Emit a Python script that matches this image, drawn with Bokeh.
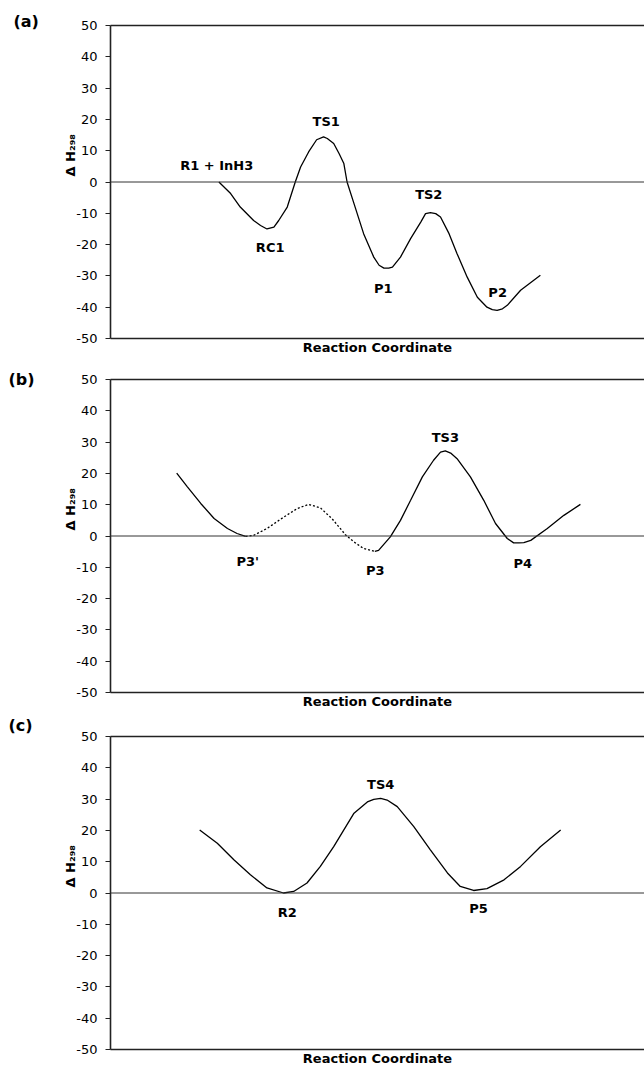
from bokeh.plotting import figure
from bokeh.models import Range1d, Span, LinearAxis, FixedTicker, Title
from bokeh.layouts import column
from bokeh.embed import file_html
from bokeh.resources import INLINE
from bokeh.core.properties import value

FONT = "DejaVu Sans"

# ---------------- data ----------------
y_ticks = [-50, -40, -30, -20, -10, 0, 10, 20, 30, 40, 50]

# panel (a)
a_x = [20.3, 22.5, 24.3, 26.8, 28.1, 29.3, 30.6, 31.5, 33.1, 34.6, 35.6, 37.1, 38.6, 39.9,
       40.6, 41.8, 42.8, 43.7, 44.3, 45.6, 47.4, 49.3, 50.3, 51.2, 52.1, 52.8, 54.3, 56.2,
       58.1, 59.0, 59.9, 60.9, 61.8, 63.4, 64.9, 66.8, 68.7, 70.5, 71.5, 72.4, 73.4, 74.3,
       76.8, 80.5]
a_y = [0, -3.7, -8, -12.3, -13.9, -15, -14.4, -12.3, -8, 0, 4.8, 9.6, 13.5, 14.4,
       13.9, 12.3, 9.1, 5.9, 0, -6.9, -16.5, -24, -26.6, -27.5, -27.5, -27.2, -24, -18.1,
       -12.8, -10.1, -9.8, -10.1, -11.2, -16.5, -22.9, -30.4, -36.8, -40, -40.8, -41, -40.5, -39.4,
       -34.6, -29.8]
a_lbl = ["R1 + InH3", "RC1", "TS1", "P1", "TS2", "P2"]
a_lbl_x = [19.9, 29.9, 40.4, 51.1, 59.6, 72.5]
a_lbl_y = [5.4, -21.0, 19.2, -34.1, -4.0, -35.2]

# panel (b)
b1_x = [12.4, 14.4, 16.9, 19.4, 21.9, 23.7, 25.3]
b1_y = [20.1, 15.7, 10.4, 5.6, 2.4, 0.8, -0.1]
bd_x = [25.3, 26.8, 29.3, 32.5, 35.0, 37.1, 39.3, 41.5, 44.0, 45.6, 47.4, 49.5]
bd_y = [-0.1, 0.2, 2.4, 6.1, 8.8, 10.1, 9.0, 5.5, 0.4, -1.9, -4.0, -4.9]
b2_x = [49.5, 50.2, 52.4, 54.3, 56.2, 58.4, 60.5, 61.8, 62.7, 63.7, 64.9, 67.4, 69.9,
        72.1, 74.3, 75.5, 76.5, 77.4, 78.7, 81.8, 84.9, 88.0]
b2_y = [-4.9, -4.6, -0.3, 5.0, 11.4, 18.9, 24.2, 26.8, 27.2, 26.5, 24.7, 18.9, 11.4,
        4.0, -0.8, -2.2, -2.2, -2.1, -1.4, 2.4, 6.6, 10.1]
b_lbl = ["P3'", "P3", "TS3", "P4"]
b_lbl_x = [25.7, 49.6, 62.7, 77.2]
b_lbl_y = [-8.1, -11.0, 31.6, -8.8]

# panel (c)
c_x = [16.7, 20.0, 23.1, 26.2, 29.3, 32.4, 34.3, 36.8, 39.3, 41.8, 45.6, 48.1, 49.3, 50.6,
       51.8, 53.7, 56.8, 59.9, 63.1, 65.5, 68.0, 70.5, 73.7, 76.8, 80.5, 84.3]
c_y = [20.1, 15.9, 10.6, 5.8, 1.6, 0.0, 0.5, 3.2, 8.5, 14.8, 25.5, 29.1, 29.9, 30.2,
       29.7, 27.6, 21.2, 13.8, 6.4, 2.1, 0.8, 1.4, 4.2, 8.5, 14.8, 20.1]
c_lbl = ["R2", "TS4", "P5"]
c_lbl_x = [33.1, 50.6, 68.9]
c_lbl_y = [-6.1, 34.8, -5.0]

panel_letters = ["(a)", "(b)", "(c)"]
x_title = "Reaction Coordinate"
y_title = "Δ H₂₉₈"


def make_panel(height, top, bottom, letter, letter_offset, letter_standoff):
    p = figure(width=644, height=height, output_backend="svg", toolbar_location=None,
               x_range=Range1d(0, 100), y_range=Range1d(-50, 50),
               min_border_left=110, min_border_right=0,
               min_border_top=top, min_border_bottom=bottom,
               x_axis_label=x_title)
    p.grid.visible = False
    p.outline_line_color = None
    p.background_fill_color = "white"
    p.border_fill_color = "white"

    xa = p.xaxis[0]
    xa.ticker = FixedTicker(ticks=[])
    xa.major_tick_out = 0
    xa.major_tick_in = 0
    xa.minor_tick_out = 0
    xa.minor_tick_in = 0
    xa.major_label_text_font_size = "0px"
    xa.major_label_standoff = 0
    xa.axis_line_color = "#222222"
    xa.axis_line_width = 1.6
    xa.axis_label_text_font = FONT
    xa.axis_label_text_font_style = "bold"
    xa.axis_label_text_font_size = "13px"
    xa.axis_label_text_color = "black"
    xa.axis_label_standoff = 1

    ya = p.yaxis[0]
    ya.ticker = FixedTicker(ticks=y_ticks)
    ya.major_label_overrides = {t: str(t) for t in y_ticks}
    ya.major_tick_out = 5
    ya.major_tick_in = 0
    ya.minor_tick_out = 0
    ya.minor_tick_in = 0
    ya.major_tick_line_color = "#222222"
    ya.axis_line_color = "#222222"
    ya.axis_line_width = 1.6
    ya.major_label_standoff = 8
    ya.major_label_text_font = FONT
    ya.major_label_text_font_size = "13px"
    ya.major_label_text_color = "black"

    top_ax = LinearAxis(ticker=FixedTicker(ticks=[]), major_tick_out=0, major_tick_in=0,
                        minor_tick_out=0, minor_tick_in=0, major_label_standoff=0,
                        major_label_text_font_size="0px",
                        axis_line_color="#222222", axis_line_width=1.6)
    p.add_layout(top_ax, "above")

    p.add_layout(Span(location=0, dimension="width", line_color="#333333", line_width=1))

    # panel letter as a title above the frame, pushed to the left edge
    p.add_layout(Title(text=letter, align="left", offset=letter_offset,
                       standoff=letter_standoff, vertical_align="bottom",
                       text_font=FONT, text_font_style="bold", text_font_size="16px",
                       text_color="black"), "above")
    # y-axis title, placed upward from just above the zero line
    p.add_layout(Title(text=y_title, align="left", offset=162, standoff=-8,
                       vertical_align="bottom",
                       text_font=FONT, text_font_style="bold", text_font_size="13px",
                       text_color="black"), "left")
    return p


def add_labels(p, xs, ys, texts):
    p.text(x=xs, y=ys, text=texts, text_font=value(FONT), text_font_style="bold",
           text_font_size=value("13px"), text_align="center", text_baseline="middle",
           text_color="black")


pa = make_panel(362, 25, 24, panel_letters[0], -97, -11)
pa.line(a_x, a_y, line_color="black", line_width=1.3)
add_labels(pa, a_lbl_x, a_lbl_y, a_lbl)

pb = make_panel(349, 17, 19, panel_letters[1], -102, -18)
pb.line(b1_x, b1_y, line_color="black", line_width=1.3)
pb.line(bd_x, bd_y, line_color="black", line_width=1.3, line_dash="2 2")
pb.line(b2_x, b2_y, line_color="black", line_width=1.3)
add_labels(pb, b_lbl_x, b_lbl_y, b_lbl)

pc = make_panel(357, 25, 18, panel_letters[2], -102, 3)
pc.line(c_x, c_y, line_color="black", line_width=1.3)
add_labels(pc, c_lbl_x, c_lbl_y, c_lbl)

layout = column(pa, pb, pc)
open("out.html", "w").write(file_html(layout, INLINE))
